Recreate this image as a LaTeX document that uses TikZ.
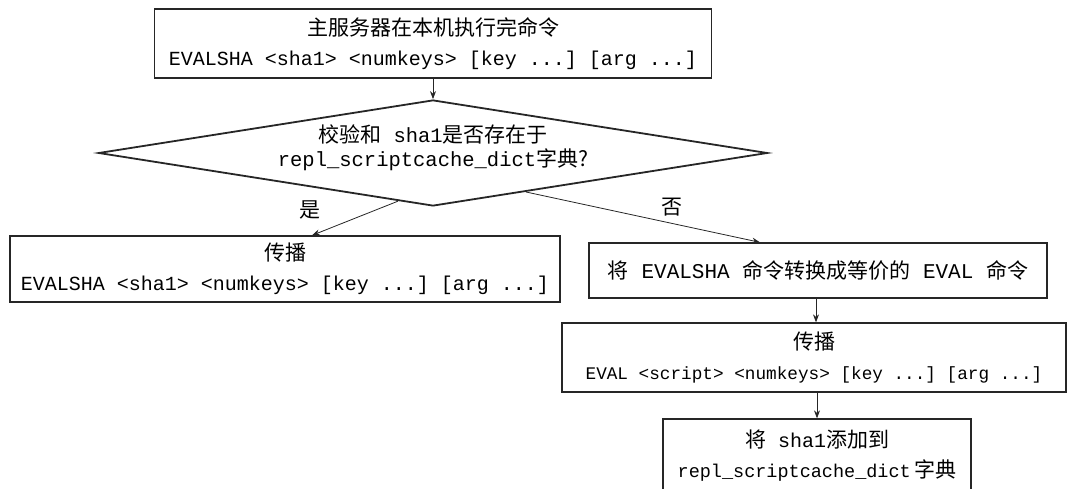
\documentclass[tikz,border=0pt]{standalone}
\usepackage{fontspec}
\setmainfont{Noto Sans CJK SC}
\setmonofont{Liberation Mono}
\usetikzlibrary{arrows.meta,shapes.geometric,calc}
\newcommand{\cmd}[2][20]{{\fontsize{#1pt}{30pt}\selectfont\ttfamily #2}}

\begin{document}
\begin{tikzpicture}[
  x=1pt, y=-1pt,
  font=\fontsize{21pt}{30pt}\selectfont,
  stepbox/.style={
    draw=black!85,
    line width=1.3pt,
    align=center,
    inner sep=0pt
  },
  decision/.style={
    diamond,
    draw=black!85,
    line width=1.8pt,
    aspect=6,
    inner sep=0pt,
    minimum width=669pt,
    minimum height=106pt
  },
  answer/.style={inner sep=0pt},
  arrow/.style={-{Stealth[length=8pt,width=6pt]},line width=0.8pt,draw=black!85}
]
\useasboundingbox (0,0) rectangle (1068,489);

\node[stepbox, minimum width=557pt, minimum height=69pt] (exec) at (433,43.5)
  {主服务器在本机执行完命令\\\cmd{EVALSHA <sha1> <numkeys> [key ...] [arg ...]}};
\node[decision, label={[align=center, font=\fontsize{21pt}{24pt}\selectfont, yshift=5pt]center:{校验和\cmd[20.5]{~sha1}是否存在于\\\cmd[20.5]{repl\_scriptcache\_dict}字典?}}] (check) at (433,153) {};
\node[stepbox, minimum width=550pt, minimum height=66pt] (relay) at (285,269)
  {传播\\\cmd{EVALSHA <sha1> <numkeys> [key ...] [arg ...]}};
\node[stepbox, minimum width=458pt, minimum height=55pt] (convert) at (818,270.5)
  {将\cmd[21]{~EVALSHA~}命令转换成等价的\cmd[21]{~EVAL~}命令};
\node[stepbox, minimum width=504pt, minimum height=69pt] (relayeval) at (814,357.5)
  {传播\\\cmd[17.7]{EVAL <script> <numkeys> [key ...] [arg ...]}};
\node[stepbox, minimum width=308pt, minimum height=73pt] (addsha) at (817,455.5)
  {将\cmd{~sha1}添加到\\\cmd[18.5]{repl\_scriptcache\_dict}\,字典};

\node[answer] (yeslabel) at (310,210) {是};
\node[answer] (nolabel) at (672,207) {否};

\draw[arrow] (exec.south) -- (check.north);
\draw[arrow] ($(check.south)!0.105!(check.west)$) -- ([xshift=27pt]relay.north);
\draw[arrow] ($(check.south)!0.277!(check.east)$) -- ([xshift=-58pt]convert.north);
\draw[arrow] ([xshift=-2pt]convert.south) -- ([xshift=2pt]relayeval.north);
\draw[arrow] (addsha.north |- relayeval.south) -- (addsha.north);
\end{tikzpicture}
\end{document}
